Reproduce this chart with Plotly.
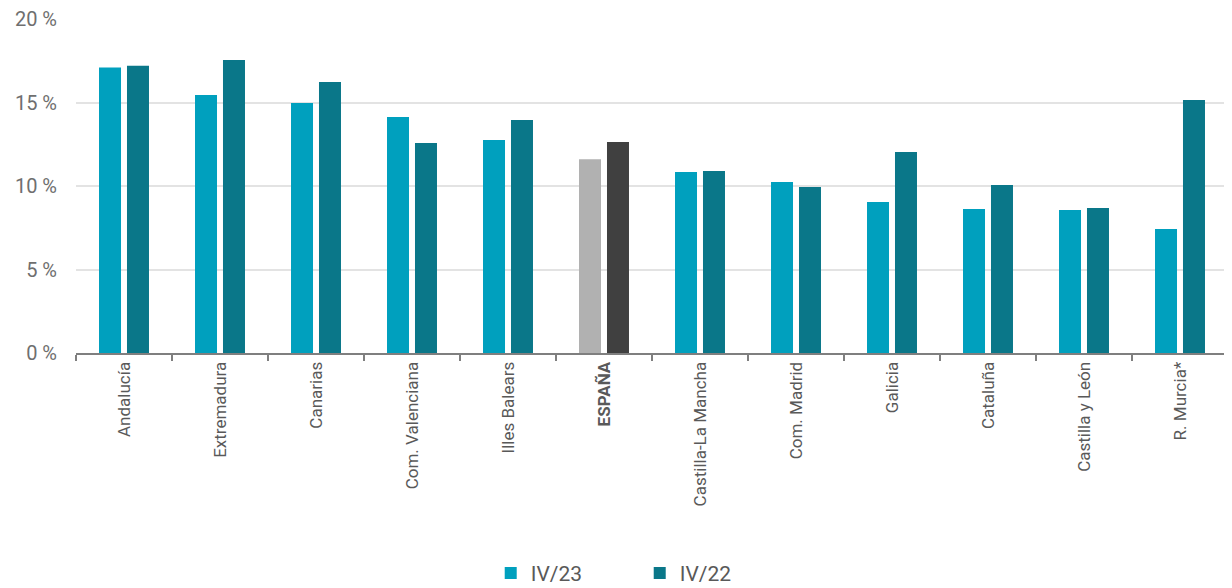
import plotly.graph_objects as go

categories = ["Andalucía", "Extremadura", "Canarias", "Com. Valenciana", "Illes Balears",
              "ESPAÑA", "Castilla-La Mancha", "Com. Madrid", "Galicia", "Cataluña",
              "Castilla y León", "R. Murcia*"]
tick_labels = [("<b>%s</b>" % c if c == "ESPAÑA" else c) for c in categories]
iv23 = [17.1, 15.45, 14.97, 14.13, 12.75, 11.6, 10.84, 10.24, 9.04, 8.62, 8.56, 7.42]
iv22 = [17.2, 17.55, 16.23, 12.57, 13.95, 12.63, 10.9, 9.94, 12.04, 10.06, 8.68, 15.15]
y_ticks = [0, 5, 10, 15, 20]
y_tick_text = ["0 %", "5 %", "10 %", "15 %", "20 %"]

c23, c22 = "#00A0BE", "#0A7789"
c23_es, c22_es = "#B1B1B1", "#404040"
col23 = [c23_es if c == "ESPAÑA" else c23 for c in categories]
col22 = [c22_es if c == "ESPAÑA" else c22 for c in categories]

fig = go.Figure()
fig.add_trace(go.Bar(x=categories, y=iv23, name="IV/23", marker=dict(color=col23, line_width=0)))
fig.add_trace(go.Bar(x=categories, y=iv22, name="IV/22", marker=dict(color=col22, line_width=0)))

fig.update_layout(
    width=1224, height=580,
    margin=dict(l=68, r=4, t=11, b=235, autoexpand=False),
    plot_bgcolor="white", paper_bgcolor="white",
    barmode="group", bargap=0.417, bargroupgap=0.214,
    font=dict(family="Roboto, Liberation Sans, sans-serif", color="#595959", size=17),
    legend=dict(orientation="h", x=0.36, xanchor="left", y=-0.66, yanchor="middle",
                font=dict(size=21, color="#595959"), entrywidth=104, itemwidth=30,
                traceorder="normal"),
    showlegend=True,
)
fig.update_xaxes(
    tickmode="array", tickvals=categories, ticktext=tick_labels, automargin=False,
    tickangle=-90, showline=True, linecolor="#7F7F7F", linewidth=2,
    ticks="outside", tickson="boundaries", ticklen=6, tickcolor="#7F7F7F", tickwidth=2,
    tickfont=dict(size=17, color="#595959"), showgrid=False,
)
fig.update_yaxes(
    range=[0, 20], tickmode="array", tickvals=y_ticks, ticktext=y_tick_text, automargin=False,
    showgrid=True, gridcolor="#E3E3E3", gridwidth=2, zeroline=False, ticklabeloverflow="allow",
    tickfont=dict(size=20, color="#6F6F6F"), ticks="", ticklabelstandoff=18,
)

fig.write_html("out.html")
